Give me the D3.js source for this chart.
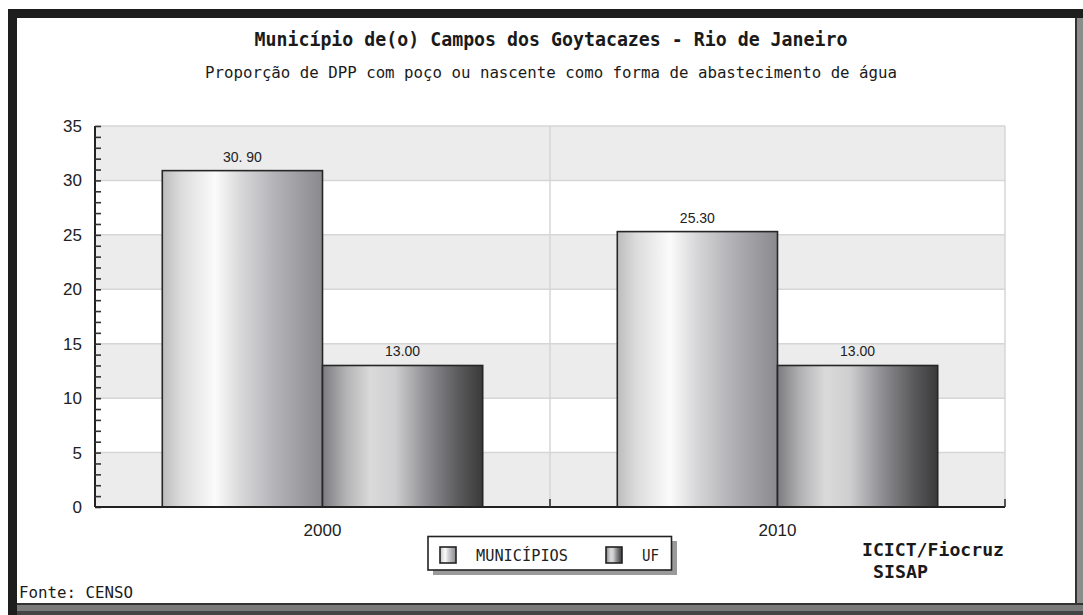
<!DOCTYPE html>
<html>
<head>
<meta charset="utf-8">
<script src="https://cdn.jsdelivr.net/npm/d3@7"></script>
<style>
  html, body { margin: 0; padding: 0; background: #fff; }
  svg { display: block; }
</style>
</head>
<body>
<svg id="chart" width="1083" height="615"></svg>
<script>
// ---- data ----
const categories = ["2000", "2010"];
const seriesNames = ["MUNICÍPIOS", "UF"];
const municipiosValues = [30.90, 25.30];
const ufValues = [13.00, 13.00];
const valueLabels = [["30. 90", "13.00"], ["25.30", "13.00"]];
const yTickValues = [0, 5, 10, 15, 20, 25, 30, 35];
const titleText = "Município de(o) Campos dos Goytacazes - Rio de Janeiro";
const subtitleText = "Proporção de DPP com poço ou nascente como forma de abastecimento de água";
const sourceText = "Fonte: CENSO";
const creditLines = ["ICICT/Fiocruz", "SISAP"];

// ---- layout ----
const W = 1083, H = 615;
const plot = { left: 95, right: 1005, top: 126, bottom: 507 };
const svg = d3.select("#chart");
const mono = "'DejaVu Sans Mono', 'Liberation Mono', monospace";
const sans = "'Liberation Sans', Arial, sans-serif";

// gradients
const defs = svg.append("defs");
function grad(id, stops) {
  const g = defs.append("linearGradient").attr("id", id)
    .attr("x1", "0%").attr("x2", "100%").attr("y1", "0%").attr("y2", "0%");
  stops.forEach(([o, c]) => g.append("stop").attr("offset", o).attr("stop-color", c));
}
grad("gMun", [["0%", "#bcbcbc"], ["12%", "#dcdcdc"], ["33%", "#fbfbfb"], ["50%", "#d6d6d8"], ["70%", "#b4b4b8"], ["100%", "#8a8a8e"]]);
grad("gUF", [["0%", "#7c7c80"], ["15%", "#b4b4b6"], ["30%", "#dadada"], ["45%", "#cfcfd1"], ["65%", "#8f8f93"], ["85%", "#5a5a5c"], ["100%", "#3a3a3a"]]);
const fills = { "MUNICÍPIOS": "url(#gMun)", "UF": "url(#gUF)" };

// ---- frame ----
svg.append("rect").attr("x", 0).attr("y", 0).attr("width", W).attr("height", H).attr("fill", "#fff");
svg.append("rect").attr("x", 1075).attr("y", 18).attr("width", 8).attr("height", 597).attr("fill", "#8c8c8c");
svg.append("rect").attr("x", 1075).attr("y", 18).attr("width", 2).attr("height", 597).attr("fill", "#333");
svg.append("rect").attr("x", 8).attr("y", 603).attr("width", 1075).attr("height", 12).attr("fill", "#7a7a7a");
svg.append("rect").attr("x", 8).attr("y", 603).attr("width", 1075).attr("height", 2).attr("fill", "#333");
svg.append("rect").attr("x", 8).attr("y", 611).attr("width", 1075).attr("height", 4).attr("fill", "#444");
svg.append("rect").attr("x", 8).attr("y", 9).attr("width", 1075).attr("height", 9).attr("fill", "#1e1e1e");
svg.append("rect").attr("x", 8).attr("y", 9).attr("width", 9).attr("height", 606).attr("fill", "#1e1e1e");

// ---- scales ----
const x0 = d3.scaleBand().domain(categories).range([plot.left, plot.right]).padding(0);
const x1 = d3.scaleBand().domain(seriesNames).range([0, x0.bandwidth()]).paddingInner(0).paddingOuter(0.42);
const y = d3.scaleLinear().domain([0, 35]).range([plot.bottom, plot.top]);

// ---- background bands ----
const bandsG = svg.append("g");
for (let i = 0; i < yTickValues.length - 1; i++) {
  const lo = yTickValues[i], hi = yTickValues[i + 1];
  bandsG.append("rect")
    .attr("x", plot.left).attr("y", y(hi))
    .attr("width", plot.right - plot.left).attr("height", y(lo) - y(hi))
    .attr("fill", (yTickValues.length - 2 - i) % 2 === 0 ? "#ececec" : "#ffffff");
}
bandsG.selectAll("line.h").data(yTickValues.slice(1)).join("line")
  .attr("x1", plot.left).attr("x2", plot.right)
  .attr("y1", d => y(d)).attr("y2", d => y(d))
  .attr("stroke", "#d6d6d6").attr("stroke-width", 1.5);
bandsG.selectAll("line.v").data(categories).join("line")
  .attr("x1", d => x0(d) + x0.bandwidth()).attr("x2", d => x0(d) + x0.bandwidth())
  .attr("y1", plot.top).attr("y2", plot.bottom)
  .attr("stroke", "#d6d6d6").attr("stroke-width", 1.5);

// ---- bars ----
const rows = categories.map((c, i) => ({
  cat: c,
  vals: [
    { s: "MUNICÍPIOS", v: municipiosValues[i], label: valueLabels[i][0] },
    { s: "UF", v: ufValues[i], label: valueLabels[i][1] }
  ]
}));
const groups = svg.append("g").selectAll("g").data(rows).join("g")
  .attr("transform", d => `translate(${x0(d.cat)},0)`);
groups.selectAll("rect").data(d => d.vals).join("rect")
  .attr("x", d => x1(d.s)).attr("y", d => y(d.v))
  .attr("width", x1.bandwidth()).attr("height", d => y(0) - y(d.v))
  .attr("fill", d => fills[d.s])
  .attr("stroke", "#262626").attr("stroke-width", 1.6);
groups.selectAll("text").data(d => d.vals).join("text")
  .attr("x", d => x1(d.s) + x1.bandwidth() / 2).attr("y", d => y(d.v) - 9)
  .attr("text-anchor", "middle")
  .attr("font-family", sans).attr("font-size", 14).attr("fill", "#222")
  .text(d => d.label);

// ---- axes ----
const minorTicks = d3.range(0, 36, 1);
const yMinor = d3.axisRight(y).tickValues(minorTicks).tickSize(6).tickFormat("");
const gMinor = svg.append("g").attr("transform", `translate(${plot.left},0)`).call(yMinor);
gMinor.select(".domain").attr("stroke", "#222").attr("stroke-width", 2).attr("d", `M0,${plot.top}V${plot.bottom}`);
gMinor.selectAll(".tick line").attr("stroke", "#333").attr("stroke-width", 1.6);

const yLab = d3.axisLeft(y).tickValues(yTickValues).tickSize(0).tickPadding(13);
const gLab = svg.append("g").attr("transform", `translate(${plot.left},0)`).call(yLab);
gLab.select(".domain").remove();
gLab.selectAll("text").attr("font-family", sans).attr("font-size", 17).attr("fill", "#222");

const xAx = d3.axisBottom(x0).tickSize(0).tickPadding(17);
const gX = svg.append("g").attr("transform", `translate(0,${plot.bottom})`).call(xAx);
gX.select(".domain").attr("stroke", "#222").attr("stroke-width", 2).attr("d", `M${plot.left},0H${plot.right}`);
gX.selectAll("text").attr("font-family", sans).attr("font-size", 17).attr("fill", "#222");
svg.append("g").selectAll("line").data(categories).join("line")
  .attr("x1", d => x0(d) + x0.bandwidth()).attr("x2", d => x0(d) + x0.bandwidth())
  .attr("y1", plot.bottom - 8).attr("y2", plot.bottom)
  .attr("stroke", "#333").attr("stroke-width", 1.6);

// ---- titles ----
svg.append("text").attr("x", 551).attr("y", 46).attr("text-anchor", "middle")
  .attr("font-family", mono).attr("font-weight", "bold").attr("font-size", 19)
  .attr("textLength", 593).attr("lengthAdjust", "spacingAndGlyphs")
  .attr("fill", "#1a1a1a").text(titleText);
svg.append("text").attr("x", 551).attr("y", 78).attr("text-anchor", "middle")
  .attr("font-family", mono).attr("font-size", 16.5)
  .attr("textLength", 692).attr("lengthAdjust", "spacingAndGlyphs")
  .attr("fill", "#1a1a1a").text(subtitleText);

// ---- legend ----
const lg = svg.append("g");
lg.append("rect").attr("x", 433).attr("y", 541).attr("width", 244).attr("height", 34).attr("fill", "#9a9a9a");
lg.append("rect").attr("x", 428).attr("y", 536.5).attr("width", 243.5).attr("height", 33.5)
  .attr("fill", "#fff").attr("stroke", "#222").attr("stroke-width", 1.6);
const legendX = { "MUNICÍPIOS": 440, "UF": 606 };
const legendTextW = { "MUNICÍPIOS": 92, "UF": 17 };
seriesNames.forEach(s => {
  lg.append("rect").attr("x", legendX[s]).attr("y", 547).attr("width", 16).attr("height", 16)
    .attr("fill", fills[s]).attr("stroke", "#222").attr("stroke-width", 1.6);
  lg.append("text").attr("x", legendX[s] + 36).attr("y", 561)
    .attr("font-family", mono).attr("font-size", 16).attr("fill", "#222")
    .attr("textLength", legendTextW[s]).attr("lengthAdjust", "spacingAndGlyphs")
    .text(s);
});

// ---- credits / source ----
svg.append("text").attr("x", 862).attr("y", 556)
  .attr("font-family", mono).attr("font-weight", "bold").attr("font-size", 18)
  .attr("textLength", 142).attr("lengthAdjust", "spacingAndGlyphs")
  .attr("fill", "#1a1a1a").text(creditLines[0]);
svg.append("text").attr("x", 873).attr("y", 578)
  .attr("font-family", mono).attr("font-weight", "bold").attr("font-size", 18)
  .attr("textLength", 55).attr("lengthAdjust", "spacingAndGlyphs")
  .attr("fill", "#1a1a1a").text(creditLines[1]);
svg.append("text").attr("x", 19).attr("y", 598)
  .attr("font-family", mono).attr("font-size", 16)
  .attr("textLength", 114).attr("lengthAdjust", "spacingAndGlyphs")
  .attr("fill", "#1a1a1a").text(sourceText);
</script>
</body>
</html>
